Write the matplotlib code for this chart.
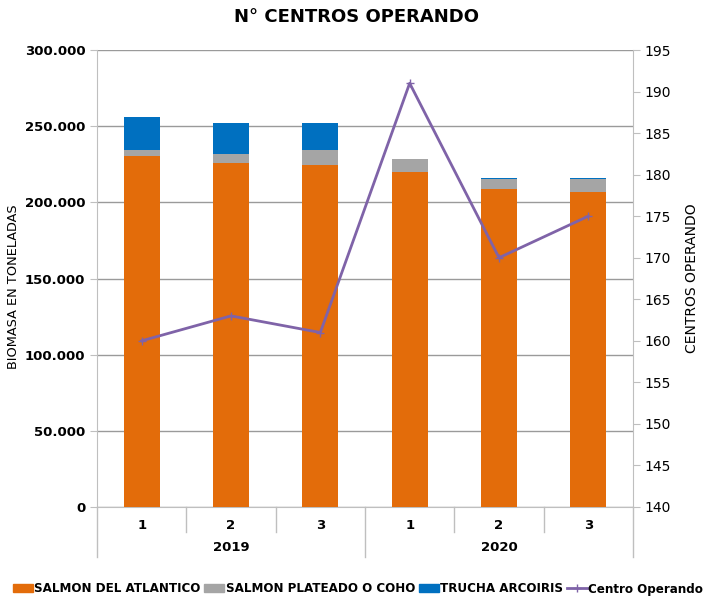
import matplotlib
matplotlib.use("Agg")
import matplotlib.pyplot as plt
from matplotlib.lines import Line2D
from matplotlib.patches import Patch
from matplotlib.ticker import FuncFormatter

quarters = ["1", "2", "3", "1", "2", "3"]
years = ["2019", "2020"]
salmon_atlantico = [230400, 225800, 224700, 220100, 208800, 206600]
salmon_coho = [4000, 5900, 9700, 8100, 6300, 8500]
trucha = [21400, 20600, 17900, 0, 700, 600]
centros = [160, 163, 161, 191, 170, 175]

C_ORANGE = "#E36C0A"
C_GRAY = "#A5A5A5"
C_BLUE = "#0070C0"
C_LINE = "#7F63A8"

plt.rcParams['font.family'] = ['DejaVu Sans']
fig = plt.figure(figsize=(7.12, 5.97), dpi=100)
ax = fig.add_axes([97/712, 1-507/597, (633-97)/712, (507-50)/597])
ax2 = ax.twinx()

x = list(range(len(quarters)))
w = 0.4
ax.bar(x, salmon_atlantico, w, color=C_ORANGE, zorder=3)
ax.bar(x, salmon_coho, w, bottom=salmon_atlantico, color=C_GRAY, zorder=3)
b3 = [a + b for a, b in zip(salmon_atlantico, salmon_coho)]
ax.bar(x, trucha, w, bottom=b3, color=C_BLUE, zorder=3)

ax.set_ylim(0, 300000)
ax.set_yticks(range(0, 300001, 50000))
ax.yaxis.set_major_formatter(FuncFormatter(lambda v, p: "0" if v == 0 else f"{int(v):,}".replace(",", ".")))
ax.grid(axis="y", color="#9A9A9A", linewidth=1, zorder=0)
ax.set_xlim(-0.5, len(quarters) - 0.5)
ax.set_xticks([])
for s in ["top", "right"]:
    ax.spines[s].set_visible(False)
ax.spines["left"].set_color("#BFBFBF")
ax.spines["bottom"].set_color("#BFBFBF")
ax.tick_params(axis="y", length=5, color="#BFBFBF", labelsize=9.5)
for lbl in ax.get_yticklabels():
    lbl.set_fontweight("bold")
fig.text(14/712, 1 - 287/597, "BIOMASA EN TONELADAS", rotation=90, ha="center", va="center", fontsize=9.3)

ax2.plot(x, centros, color=C_LINE, linewidth=2, marker="+", markersize=6, zorder=4)
ax2.set_ylim(140, 195)
ax2.set_yticks(range(140, 196, 5))
for s in ["top", "left", "bottom"]:
    ax2.spines[s].set_visible(False)
ax2.spines["right"].set_color("#BFBFBF")
ax2.tick_params(axis="y", length=5, color="#BFBFBF", labelsize=10)
ax2.set_ylabel("CENTROS OPERANDO", fontsize=10, labelpad=10)

# multi-level category axis
n = len(quarters)
trans = ax.get_xaxis_transform()
for i in range(n + 1):
    xpos = i - 0.5
    if i in (0, 3, n):
        ax.plot([xpos, xpos], [0, -0.11], transform=trans, color="#BFBFBF", lw=1, clip_on=False)
    else:
        ax.plot([xpos, xpos], [0, -0.055], transform=trans, color="#BFBFBF", lw=1, clip_on=False)
for i, q in enumerate(quarters):
    ax.text(i, -0.04, q, transform=trans, ha="center", va="center", fontsize=9.5, fontweight="bold")
for j, yr in enumerate(years):
    ax.text(j * 3 + 1, -0.088, yr, transform=trans, ha="center", va="center", fontsize=9.5, fontweight="bold")

fig.text(0.5, 1 - 17/597, "N° CENTROS OPERANDO", ha="center", va="center", fontsize=13, fontweight="bold")

handles = [Patch(color=C_ORANGE), Patch(color=C_GRAY), Patch(color=C_BLUE),
           Line2D([0], [0], color=C_LINE, lw=2, marker="+", markersize=6)]
labels = ["SALMON DEL ATLANTICO", "SALMON PLATEADO O COHO", "TRUCHA ARCOIRIS", "Centro Operando"]
leg = fig.legend(handles, labels, loc="center", bbox_to_anchor=(358/712, 1 - 589/597), ncol=4, frameon=False,
                 handlelength=1.5, handleheight=0.6, handletextpad=0.1, columnspacing=0.3, borderpad=0,
                 prop={"family": "DejaVu Sans", "stretch": "condensed", "weight": "bold", "size": 9.5})

fig.savefig("out.png", dpi=100)
